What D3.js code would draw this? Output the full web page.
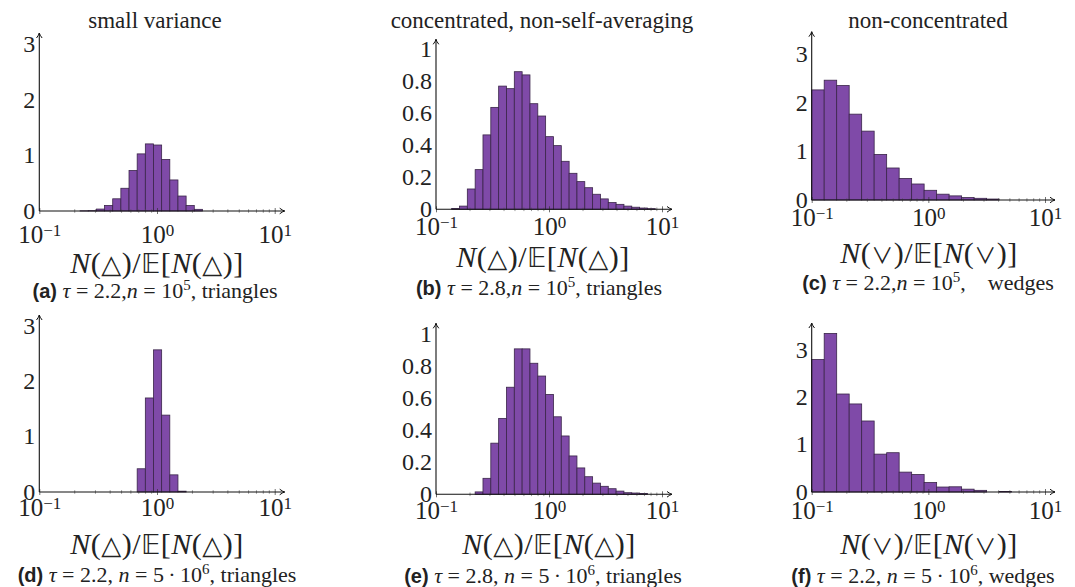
<!DOCTYPE html>
<html>
<head>
<meta charset="utf-8">
<script src="https://cdn.jsdelivr.net/npm/d3@7"></script>
<style>
  body { margin: 0; background: #fff; }
  text { font-family: "Liberation Serif", "DejaVu Serif", serif; fill: #222; }
</style>
</head>
<body>
<div id="chart"></div>
<script>
// Bin edges (log10 of the ratio), shared by the triangle and the wedge panels
const triangleEdges = d3.range(0, 32).map(k => -1 + k * 0.0693);
const wedgeEdges = d3.range(0, 30).map(k => -1 + k * 0.1071);

// Histogram heights per bin (index = bin number)
const heightsA = [0, 0, 0, 0, 0, 0.003, 0.006, 0.035, 0.10, 0.22, 0.41, 0.73, 1.03, 1.21, 1.19, 0.93, 0.56, 0.27, 0.10, 0.03];
const heightsB = [0, 0, 0.005, 0.02, 0.127, 0.248, 0.465, 0.637, 0.77, 0.754, 0.86, 0.84, 0.66, 0.583, 0.454, 0.398, 0.30, 0.225, 0.173, 0.135, 0.094, 0.065, 0.042, 0.031, 0.02, 0.013, 0.008, 0.004];
const heightsC = [2.27, 2.47, 2.36, 1.77, 1.42, 0.94, 0.66, 0.445, 0.33, 0.20, 0.12, 0.085, 0.05, 0.035, 0.02];
const heightsD = [0, 0, 0, 0, 0, 0, 0, 0, 0, 0, 0, 0, 0.42, 1.70, 2.57, 1.39, 0.31, 0.015];
const heightsE = [0, 0, 0, 0, 0, 0.015, 0.10, 0.32, 0.475, 0.67, 0.91, 0.91, 0.82, 0.74, 0.625, 0.485, 0.365, 0.24, 0.165, 0.11, 0.07, 0.05, 0.035, 0.02, 0.01, 0.008, 0.005];
const heightsF = [2.80, 3.35, 2.07, 1.86, 1.50, 0.80, 0.83, 0.42, 0.37, 0.20, 0.105, 0.11, 0.06, 0.035, 0, 0.012];

// Tick values and labels
const xTickValues = [0.1, 1, 10];
const xTickExponents = ['\u22121', '0', '1'];
const intTicks = [0, 1, 2, 3];
const fracTicks = [0, 0.2, 0.4, 0.6, 0.8, 1];

const columnTitles = ['small variance', 'concentrated, non-self-averaging', 'non-concentrated'];

// Captions: [bold tag, tau, n (prefix, base, exponent), kind]
const captions = [
  ['(a)', '2.2,', ['', '10', '5'], ', triangles'],
  ['(b)', '2.8,', ['', '10', '5'], ', triangles'],
  ['(c)', '2.2,', ['', '10', '5'], ',\u2003wedges'],
  ['(d)', '2.2, ', ['5\u2009\u00b7\u2009', '10', '6'], ', triangles'],
  ['(e)', '2.8, ', ['5\u2009\u00b7\u2009', '10', '6'], ', triangles'],
  ['(f)', '2.2, ', ['5\u2009\u00b7\u2009', '10', '6'], ', wedges']
];

const svg = d3.select('#chart').append('svg')
  .attr('width', 1075)
  .attr('height', 587);

svg.append('defs').append('marker')
  .attr('id', 'arrow')
  .attr('markerUnits', 'userSpaceOnUse')
  .attr('markerWidth', 12).attr('markerHeight', 12)
  .attr('viewBox', '-8 -6 12 12')
  .attr('refX', 0).attr('refY', 0)
  .attr('orient', 'auto')
  .append('path')
  .attr('d', 'M-5,-2.8 Q-2,-0.5 0,0 Q-2,0.5 -5,2.8')
  .attr('fill', 'none')
  .attr('stroke', '#111')
  .attr('stroke-width', 1);

// Layout of each panel (pixel geometry only)
const panels = [
  { heights: heightsA, edges: triangleEdges, ticks: intTicks, sym: '\u25b3', title: 0,
    xL: 39.3, xR: 274.7, yB: 211, yT: 33, ymax: 3.21, tickY: 243, labY: 273, capY: 298, labX: 157, capX: 155 },
  { heights: heightsB, edges: triangleEdges, ticks: fracTicks, sym: '\u25b3', title: 1,
    xL: 436, xR: 662, yB: 209.3, yT: 39.3, ymax: 1.0625, tickY: 235, labY: 267, capY: 295, labX: 543, capX: 539 },
  { heights: heightsC, edges: wedgeEdges, ticks: intTicks, sym: '\u2228', title: 2,
    xL: 811.7, xR: 1045, yB: 200, yT: 31.7, ymax: 3.47, tickY: 226, labY: 263, capY: 290, labX: 929, capX: 928 },
  { heights: heightsD, edges: triangleEdges, ticks: intTicks, sym: '\u25b3', title: null,
    xL: 39.3, xR: 274.7, yB: 492, yT: 315, ymax: 3.2, tickY: 516, labY: 554, capY: 582, labX: 157, capX: 157 },
  { heights: heightsE, edges: triangleEdges, ticks: fracTicks, sym: '\u25b3', title: null,
    xL: 436, xR: 662, yB: 494.3, yT: 323.3, ymax: 1.07, tickY: 519, labY: 554, capY: 583, labX: 549, capX: 543 },
  { heights: heightsF, edges: wedgeEdges, ticks: intTicks, sym: '\u2228', title: null,
    xL: 811.7, xR: 1045, yB: 492, yT: 323, ymax: 3.57, tickY: 519, labY: 554, capY: 583, labX: 929, capX: 923 }
];

const titleX = [155, 542, 928];

panels.forEach((p, i) => {
  const x = d3.scaleLog().domain([0.1, 10]).range([p.xL, p.xR]);
  const y = d3.scaleLinear().domain([0, p.ymax]).range([p.yB, p.yT]);
  const g = svg.append('g');

  // Bars
  const bins = p.heights
    .map((h, k) => ({ h, lo: Math.pow(10, p.edges[k]), hi: Math.pow(10, p.edges[k + 1]) }))
    .filter(d => d.h > 0);

  g.selectAll('rect')
    .data(bins)
    .enter()
    .append('rect')
    .attr('x', d => x(d.lo))
    .attr('width', d => x(d.hi) - x(d.lo))
    .attr('y', d => y(d.h))
    .attr('height', d => y(0) - y(d.h))
    .attr('fill', '#7f4aa8')
    .attr('stroke', '#3a2549')
    .attr('stroke-width', 0.8);

  // Minor ticks on the log axis
  const minor = [];
  [0.1, 1].forEach(b => d3.range(2, 10).forEach(m => minor.push(b * m)));
  g.selectAll('.minor')
    .data(minor)
    .enter()
    .append('line')
    .attr('x1', d => x(d)).attr('x2', d => x(d))
    .attr('y1', p.yB - 1.8).attr('y2', p.yB + 1.8)
    .attr('stroke', '#555')
    .attr('stroke-width', 0.6);

  // X axis: major ticks + labels 10^k
  const xAxis = g.append('g')
    .attr('transform', `translate(0, ${p.yB})`)
    .call(d3.axisBottom(x).tickValues(xTickValues).tickSize(3).tickFormat(''));
  xAxis.select('.domain').remove();
  xAxis.selectAll('.tick line').attr('y1', -3).attr('stroke', '#333').attr('stroke-width', 0.7);
  xAxis.selectAll('.tick text').remove();
  xAxis.selectAll('.tick').each(function (d, j) {
    const t = d3.select(this).append('text')
      .attr('y', p.tickY - p.yB)
      .attr('text-anchor', 'middle')
      .style('font-size', '25px')
      .style('fill', '#222');
    t.append('tspan').text('10');
    t.append('tspan').attr('dy', -7).style('font-size', '17px').text(xTickExponents[j]);
  });

  // Y axis labels
  const yAxis = g.append('g')
    .attr('transform', `translate(${p.xL}, 0)`)
    .call(d3.axisLeft(y).tickValues(p.ticks).tickSize(0).tickPadding(4)
      .tickFormat(d => d3.format('~g')(d)));
  yAxis.select('.domain').remove();
  yAxis.selectAll('.tick text')
    .attr('dy', '0.3em')
    .style('font-family', '"Liberation Serif", serif')
    .style('font-size', '24px')
    .style('fill', '#222');

  // Axis lines with arrows
  g.append('line')
    .attr('x1', p.xL).attr('x2', p.xR + 10)
    .attr('y1', p.yB).attr('y2', p.yB)
    .attr('stroke', '#111').attr('stroke-width', 1.1)
    .attr('marker-end', 'url(#arrow)');
  g.append('line')
    .attr('x1', p.xL).attr('x2', p.xL)
    .attr('y1', p.yB).attr('y2', p.yT)
    .attr('stroke', '#111').attr('stroke-width', 1.1)
    .attr('marker-end', 'url(#arrow)');

  // X axis label N(sym)/E[N(sym)]
  const isWedge = p.sym === '\u2228';
  const lab = g.append('text')
    .attr('x', p.labX).attr('y', p.labY)
    .attr('text-anchor', 'middle')
    .style('font-size', '30px')
    .style('letter-spacing', '0.5px');
  const addSym = () => lab.append('tspan')
    .style('font-family', isWedge ? '"Noto Sans CJK JP", "DejaVu Sans", sans-serif' : '"DejaVu Sans", sans-serif')
    .style('font-size', isWedge ? '22px' : '26px')
    .text(p.sym);
  lab.append('tspan').style('font-style', 'italic').text('N');
  lab.append('tspan').text('(');
  addSym();
  lab.append('tspan').text(')/');
  lab.append('tspan').style('font-family', '"DejaVu Sans", sans-serif').style('font-size', '26px').text('\ud835\udd3c');
  lab.append('tspan').text('[');
  lab.append('tspan').style('font-style', 'italic').text('N');
  lab.append('tspan').text('(');
  addSym();
  lab.append('tspan').text(')]');

  // Caption
  const c = captions[i];
  const cap = g.append('text')
    .attr('x', p.capX).attr('y', p.capY)
    .attr('text-anchor', 'middle')
    .style('font-size', '22px');
  cap.append('tspan')
    .style('font-family', '"Liberation Sans", Arial, sans-serif')
    .style('font-weight', 'bold')
    .style('font-size', '20px')
    .text(c[0] + ' ');
  cap.append('tspan').style('font-style', 'italic').text('\u03c4');
  cap.append('tspan').text(' = ' + c[1]);
  cap.append('tspan').style('font-style', 'italic').text('n');
  cap.append('tspan').text(' = ' + c[2][0] + c[2][1]);
  cap.append('tspan').attr('dy', -8).style('font-size', '15px').text(c[2][2]);
  cap.append('tspan').attr('dy', 8).text(c[3]);

  // Column title
  if (p.title !== null) {
    svg.append('text')
      .attr('x', titleX[p.title]).attr('y', 28)
      .attr('text-anchor', 'middle')
      .style('font-size', '23px')
      .text(columnTitles[p.title]);
  }
});
</script>
</body>
</html>
